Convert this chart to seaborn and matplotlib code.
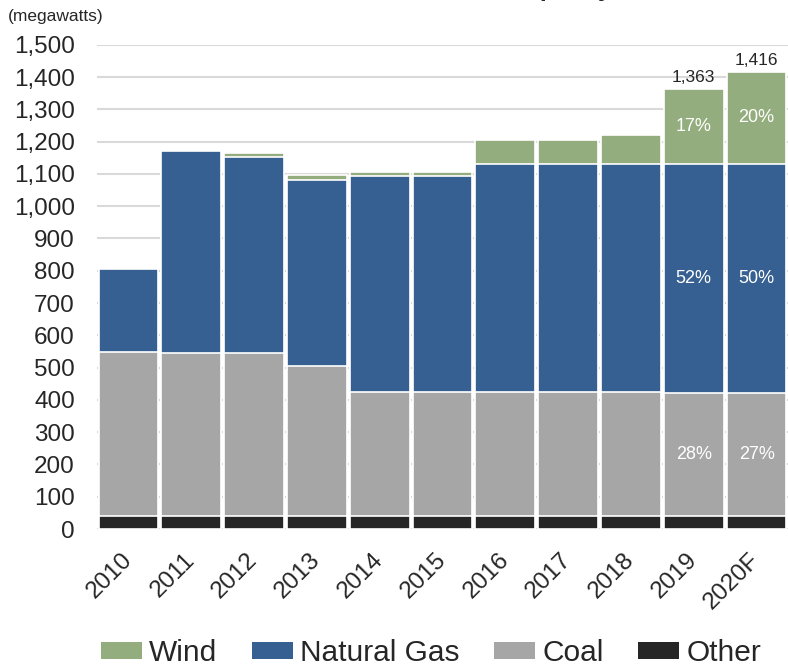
import matplotlib
matplotlib.use('Agg')
import numpy as np
import pandas as pd
import seaborn as sns
import matplotlib.pyplot as plt
from matplotlib.patches import Patch

# Data (megawatts)
years = ['2010', '2011', '2012', '2013', '2014', '2015', '2016', '2017', '2018', '2019', '2020F']
other = [40, 40, 40, 40, 40, 40, 40, 40, 40, 40, 40]
coal = [507, 504, 504, 465, 383, 383, 383, 383, 383, 382, 382]
natural_gas = [258, 627, 608, 576, 671, 671, 709, 709, 709, 709, 709]
wind = [0, 0, 14, 16, 13, 13, 74, 74, 90, 232, 285]

series_names = ['Other', 'Coal', 'Natural Gas', 'Wind']
colors = {'Wind': '#94ad7e', 'Natural Gas': '#366092', 'Coal': '#a6a6a6', 'Other': '#262626'}

df = pd.DataFrame({'year': years, 'Other': other, 'Coal': coal,
                   'Natural Gas': natural_gas, 'Wind': wind})
cum = df[series_names].cumsum(axis=1)
totals = cum['Wind']

sns.set_style("white")
plt.rcParams['font.family'] = ['Liberation Sans', 'DejaVu Sans']

fig = plt.figure(figsize=(7.88, 6.68), dpi=100)
ax = fig.add_axes([97 / 788, 1 - 529 / 668, 1 - 97 / 788, (529 - 44.8) / 668])

# stacked bars: draw cumulative tops, tallest first
for name in reversed(series_names):
    sns.barplot(x=df['year'], y=cum[name], order=years, color=colors[name],
                saturation=1, width=0.95, edgecolor='white', linewidth=1.2, ax=ax)

ax.set_ylim(0, 1500)
ax.set_xlim(-0.5, 10.5)
ax.set_yticks(np.arange(0, 1501, 100))
ax.set_yticklabels([f'{v:,}' for v in range(0, 1501, 100)], fontsize=17.5)
ax.yaxis.grid(True, color='#d9d9d9', linewidth=1.5)
ax.set_axisbelow(True)
for s in ax.spines.values():
    s.set_visible(False)
ax.tick_params(axis='y', length=0, pad=16)
ax.tick_params(axis='x', length=0, pad=20)
plt.setp(ax.get_xticklabels(), rotation=45, ha='right', va='center',
         rotation_mode='anchor', fontsize=17.5)
ax.set_xlabel('')
ax.set_ylabel('')

# share labels for the last two bars
for i in [9, 10]:
    t = totals[i]
    for name in ['Wind', 'Natural Gas', 'Coal']:
        top = cum[name][i]
        mid = top - df[name][i] / 2
        ax.text(i, mid, f'{df[name][i] / t:.0%}', color='white', ha='center', va='center', fontsize=13)
    ax.text(i, t + 12, f'{t:,}', ha='center', va='bottom', fontsize=12.5, clip_on=False)

fig.text(8 / 788, 1 - 17 / 668, '(megawatts)', fontsize=12.5, va='center', ha='left')
fig.text(612 / 788, 1 + 4 / 668, 'Generation Capacity', fontsize=18, fontweight='bold',
         ha='right', va='baseline')

handles = [Patch(facecolor=colors[n], edgecolor='none') for n in ['Wind', 'Natural Gas', 'Coal', 'Other']]
fig.legend(handles, ['Wind', 'Natural Gas', 'Coal', 'Other'], loc='center', ncol=4,
           bbox_to_anchor=(431 / 788, 1 - 653 / 668), frameon=False, fontsize=21.5,
           handlelength=1.37, handleheight=0.5, handletextpad=0.23, columnspacing=1.17,
           borderpad=0, borderaxespad=0)

fig.savefig('out.png', dpi=100, facecolor='white')
